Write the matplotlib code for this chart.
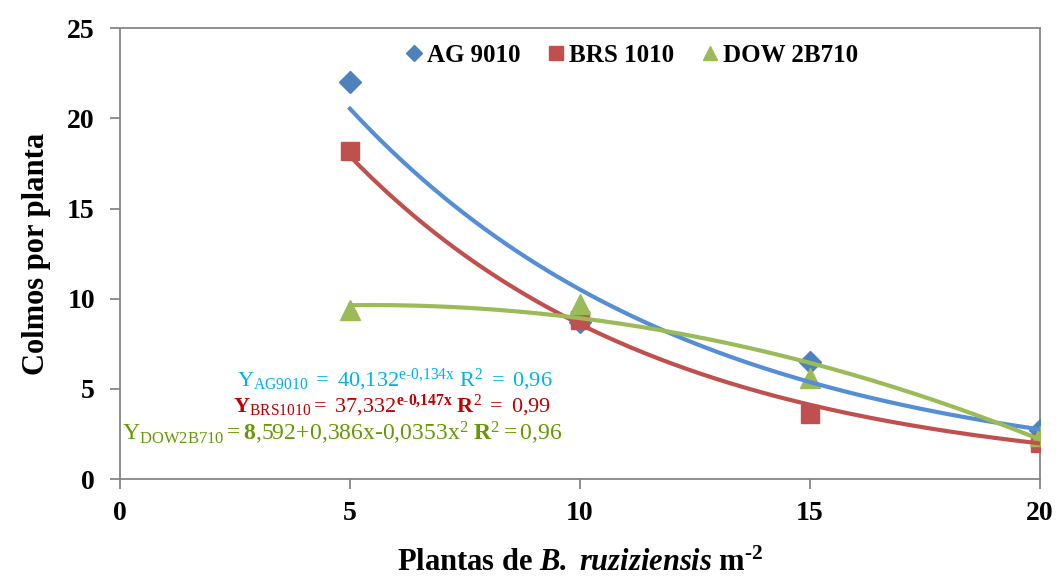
import numpy as np
import matplotlib
matplotlib.use('Agg')
import matplotlib.pyplot as plt

plt.rcParams['font.family'] = 'Liberation Serif'
plt.rcParams['mathtext.fontset'] = 'custom'
plt.rcParams['mathtext.rm'] = 'Liberation Serif'
plt.rcParams['mathtext.it'] = 'Liberation Serif:italic'
plt.rcParams['mathtext.bf'] = 'Liberation Serif:bold'
plt.rcParams['mathtext.bfit'] = 'Liberation Serif:italic:bold'

# data
plantas = [5, 10, 15, 20]
ag9010 = [22.0, 8.7, 6.5, 2.7]
brs1010 = [18.2, 8.8, 3.6, 2.0]
dow2b710 = [9.4, 9.7, 5.6, 2.4]

# trendline coefficients (from the equations on the chart)
ag_a, ag_b = 40.132, -0.134
brs_a, brs_b = 37.332, -0.147
dow_c = [8.592, 0.386, -0.0353]

col_ag = '#4F81BD'
col_brs = '#C0504D'
col_dow = '#9BBB59'
gray = '#868686'

fig = plt.figure(figsize=(10.58, 5.76), dpi=100)
ax = fig.add_axes([0.1134, 0.1684, 0.8696, 0.7826])

ax.plot(plantas, ag9010, ls='none', marker='D', ms=11, color=col_ag, label='AG 9010', zorder=3)
ax.plot(plantas, brs1010, ls='none', marker='s', ms=13, color=col_brs, label='BRS 1010', zorder=3)
ax.plot(plantas, dow2b710, ls='none', marker='^', ms=14, color=col_dow, label='DOW 2B710', zorder=3)

xt = np.linspace(5, 20, 200)
ax.plot(xt, ag_a * np.exp(ag_b * xt), color='#558ED5', lw=3, zorder=4)
ax.plot(xt, brs_a * np.exp(brs_b * xt), color=col_brs, lw=3, zorder=4)
ax.plot(xt, dow_c[0] + dow_c[1] * xt + dow_c[2] * xt**2, color=col_dow, lw=3, zorder=4)

ax.set_xlim(0, 20)
ax.set_ylim(0, 25)
ax.set_xticks([0, 5, 10, 15, 20])
ax.set_yticks([0, 5, 10, 15, 20, 25])
for s in ax.spines.values():
    s.set_color(gray)
    s.set_linewidth(1.3)
ax.tick_params(axis='both', direction='out', length=7, width=1.3, color=gray, labelsize=20)
ax.tick_params(axis='y', pad=11)
ax.tick_params(axis='x', pad=9)
for lab in ax.get_xticklabels() + ax.get_yticklabels():
    lab.set_fontweight('bold')

ax.set_ylabel('Colmos por planta', fontsize=22, fontweight='bold', labelpad=12)
ax.set_xlabel(r'Plantas de $\mathbfit{B{.}\ ruziziensis}$ m$^{\mathbf{\text{-}2}}$',
              fontsize=22, fontweight='bold', labelpad=16)

leg = ax.legend(loc='center', bbox_to_anchor=(0.556, 0.94), ncol=3, frameon=False,
                prop={'weight': 'bold', 'size': 18}, handlelength=0.7, handletextpad=0.15,
                columnspacing=1.1, markerscale=0.75)

# equations
fig.text(237 / 1058, 1 - 380 / 576,
         r'$\mathrm{Y}_{\mathrm{AG9010}}\mathrm{\ =\ 40{,}132}^{\mathrm{e\text{-}0{,}134x}}\mathrm{\ R^{2}\ =\ 0{,}96}$',
         color='#00B0F0', fontsize=16, va='center', ha='left')
fig.text(233 / 1058, 1 - 406 / 576,
         r'$\mathbf{Y}_{\mathrm{BRS1010}}\mathrm{=\ 37{,}332}^{\mathbf{e\text{-}0{,}147x}}\mathbf{\ R}^{\mathrm{2}}\mathrm{\ =\ 0{,}99}$',
         color='#C00000', fontsize=16, va='center', ha='left')
fig.text(122 / 1058, 1 - 433 / 576,
         r'$\mathrm{Y}_{\mathrm{DOW2B710}}\mathrm{=}\mathbf{8}\mathrm{{,}592\!+\!0{,}386x\text{-}0{,}0353x^{2}}\mathbf{\ R}^{\mathrm{2}}\mathrm{=0{,}96}$',
         color='#669900', fontsize=17, va='center', ha='left')

fig.savefig('out.png', dpi=100)
